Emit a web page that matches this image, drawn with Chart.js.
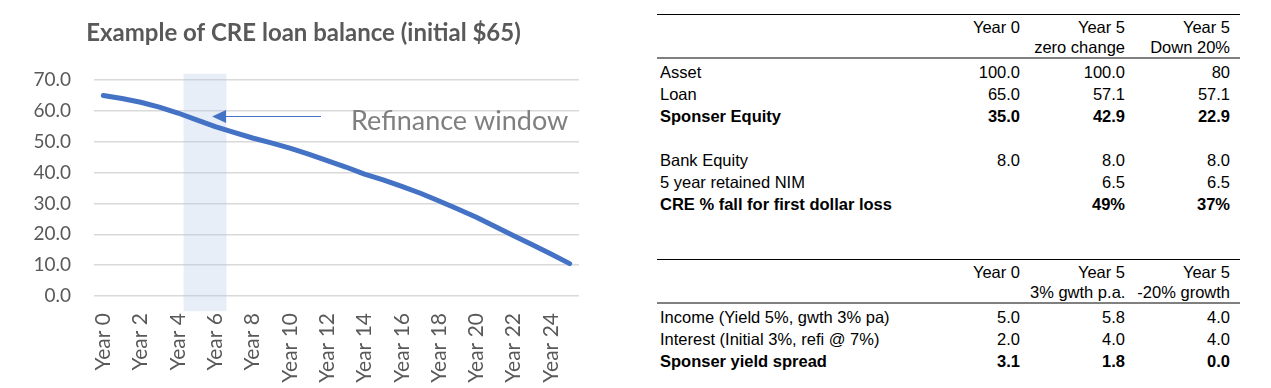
<!DOCTYPE html>
<html>
<head>
<meta charset="utf-8">
<script src="https://cdn.jsdelivr.net/npm/chart.js@4.4.1/dist/chart.umd.min.js"></script>
<style>
  html, body { margin: 0; padding: 0; background: #fff; }
  #wrap { position: relative; width: 1271px; height: 388px; overflow: hidden; }
  #chartBox { position: absolute; left: 0; top: 0; width: 640px; height: 388px; }
  .tbl { position: absolute; left: 657px; width: 583px; font-family: "Liberation Sans", Arial, sans-serif; font-size: 16.5px; color: #000; }
  .rule1 { border-top: 1px solid #000; }
  .rule2 { border-top: 2px solid #808080; }
  .row { display: flex; height: 22px; line-height: 22px; white-space: nowrap; }
  .row.head { height: 20px; line-height: 20px; }
  .row.first { padding-top: 2px; }
  .row.bold { font-weight: bold; }
  .cell { box-sizing: border-box; }
  .c0 { width: 260px; padding-left: 3px; }
  .c1 { width: 113px; padding-right: 10px; text-align: right; }
  .c2, .c3 { width: 105px; padding-right: 10px; text-align: right; }
</style>
</head>
<body>
<div id="wrap">
  <div id="chartBox"><canvas id="loanChart"></canvas></div>
  <div id="t1" class="tbl" style="top:14px"></div>
  <div id="t2" class="tbl" style="top:259px"></div>
</div>
<script>
// chart data
const years = [
  'Year 0', 'Year 1', 'Year 2', 'Year 3', 'Year 4', 'Year 5', 'Year 6', 'Year 7', 'Year 8',
  'Year 9', 'Year 10', 'Year 11', 'Year 12', 'Year 13', 'Year 14', 'Year 15', 'Year 16',
  'Year 17', 'Year 18', 'Year 19', 'Year 20', 'Year 21', 'Year 22', 'Year 23', 'Year 24', 'Year 25'
];
const loanBalance = [
  65.0, 64.0, 62.8, 61.2, 59.3, 57.1, 54.9, 53.0, 51.2, 49.6, 47.9, 46.0, 43.9,
  41.8, 39.5, 37.6, 35.5, 33.3, 30.8, 28.2, 25.5, 22.5, 19.5, 16.6, 13.6, 10.5
];
const chartTitle = 'Example of CRE loan balance (initial $65)';
const noteText = 'Refinance window';

// table data
const t1Head = [
  ['', 'Year 0', 'Year 5', 'Year 5'],
  ['', '', 'zero change', 'Down 20%']
];
const t1Rows = [
  ['Asset', '100.0', '100.0', '80'],
  ['Loan', '65.0', '57.1', '57.1'],
  ['Sponser Equity', '35.0', '42.9', '22.9'],
  ['', '', '', ''],
  ['Bank Equity', '8.0', '8.0', '8.0'],
  ['5 year retained NIM', '', '6.5', '6.5'],
  ['CRE % fall for first dollar loss', '', '49%', '37%']
];
const t1Bold = [2, 6];

const t2Head = [
  ['', 'Year 0', 'Year 5', 'Year 5'],
  ['', '', '3% gwth p.a.', '-20% growth']
];
const t2Rows = [
  ['Income (Yield 5%, gwth 3% pa)', '5.0', '5.8', '4.0'],
  ['Interest (Initial 3%, refi @ 7%)', '2.0', '4.0', '4.0'],
  ['Sponser yield spread', '3.1', '1.8', '0.0']
];
const t2Bold = [2];

function buildTable(el, head, rows, bold) {
  let html = '<div class="rule1"></div>';
  head.forEach((r, i) => {
    html += '<div class="row head' + (i === 0 ? ' first' : '') + '">' +
      r.map((c, j) => '<div class="cell c' + j + '">' + c + '</div>').join('') + '</div>';
  });
  html += '<div class="rule2"></div>';
  rows.forEach((r, i) => {
    const cls = 'row' + (i === 0 ? ' first' : '') + (bold.includes(i) ? ' bold' : '');
    html += '<div class="' + cls + '">' +
      r.map((c, j) => '<div class="cell c' + j + '">' + (c || '&nbsp;') + '</div>').join('') + '</div>';
  });
  el.innerHTML = html;
}
buildTable(document.getElementById('t1'), t1Head, t1Rows, t1Bold);
buildTable(document.getElementById('t2'), t2Head, t2Rows, t2Bold);

// shaded refinance band, arrow and note
const refiPlugin = {
  id: 'refi',
  beforeDatasetsDraw(chart) {
    const { ctx, scales: { x, y } } = chart;
    const x0 = x.getPixelForValue(4.3), x1 = x.getPixelForValue(6.6);
    const y0 = y.getPixelForValue(72), y1 = y.getPixelForValue(-4.9);
    ctx.save();
    ctx.fillStyle = 'rgba(180,199,231,0.3)';
    ctx.fillRect(x0, y0, x1 - x0, y1 - y0);
    ctx.restore();
  },
  afterDatasetsDraw(chart) {
    const { ctx, scales: { x, y } } = chart;
    const tipX = x.getPixelForValue(5.83), endX = x.getPixelForValue(11.67);
    const ay = Math.round(y.getPixelForValue(58.3)) + 0.5;
    ctx.save();
    ctx.strokeStyle = '#4472C4';
    ctx.fillStyle = '#4472C4';
    ctx.lineWidth = 1;
    ctx.beginPath();
    ctx.moveTo(tipX + 10, ay);
    ctx.lineTo(endX, ay);
    ctx.stroke();
    ctx.beginPath();
    ctx.moveTo(tipX, ay);
    ctx.lineTo(tipX + 14, ay - 6.5);
    ctx.lineTo(tipX + 14, ay + 6.5);
    ctx.closePath();
    ctx.fill();
    ctx.fillStyle = '#7f7f7f';
    ctx.font = '27px Lato';
    ctx.textBaseline = 'alphabetic';
    ctx.fillText(noteText, x.getPixelForValue(13.28), y.getPixelForValue(53.8));
    ctx.restore();
  }
};

const ctx = document.getElementById('loanChart');
const loanChart = new Chart(ctx, {
  type: 'line',
  data: {
    labels: years,
    datasets: [{
      data: loanBalance,
      borderColor: '#4472C4',
      borderWidth: 5,
      borderCapStyle: 'round',
      borderJoinStyle: 'round',
      pointRadius: 0,
      tension: 0,
      fill: false
    }]
  },
  options: {
    responsive: true,
    maintainAspectRatio: false,
    animation: false,
    layout: { padding: { left: 28, right: 61, top: 0, bottom: 0 } },
    scales: {
      x: {
        offset: true,
        grid: { display: false },
        border: { display: false },
        afterFit: (s) => { s.height = 92; },
        ticks: {
          autoSkip: false,
          maxRotation: 90,
          minRotation: 90,
          padding: 9,
          color: '#595959',
          font: { family: 'Lato', size: 21 },
          callback: (v, i) => (i % 2 === 0 ? years[i] : '')
        }
      },
      y: {
        min: 0,
        max: 70,
        afterFit: (s) => { s.width = 66; },
        grid: { color: '#d9d9d9', lineWidth: 1.5, drawTicks: false },
        border: { display: false },
        ticks: {
          stepSize: 10,
          padding: 23,
          color: '#595959',
          font: { family: 'Lato', size: 19 },
          callback: (v) => v.toFixed(1)
        }
      }
    },
    plugins: {
      legend: { display: false },
      tooltip: { enabled: false },
      title: {
        display: true,
        text: chartTitle,
        color: '#595959',
        font: { family: 'Lato', size: 24, weight: 'bold', lineHeight: 1.2 },
        padding: { top: 18.6, bottom: 32.6 }
      }
    }
  },
  plugins: [refiPlugin]
});
</script>
</body>
</html>
